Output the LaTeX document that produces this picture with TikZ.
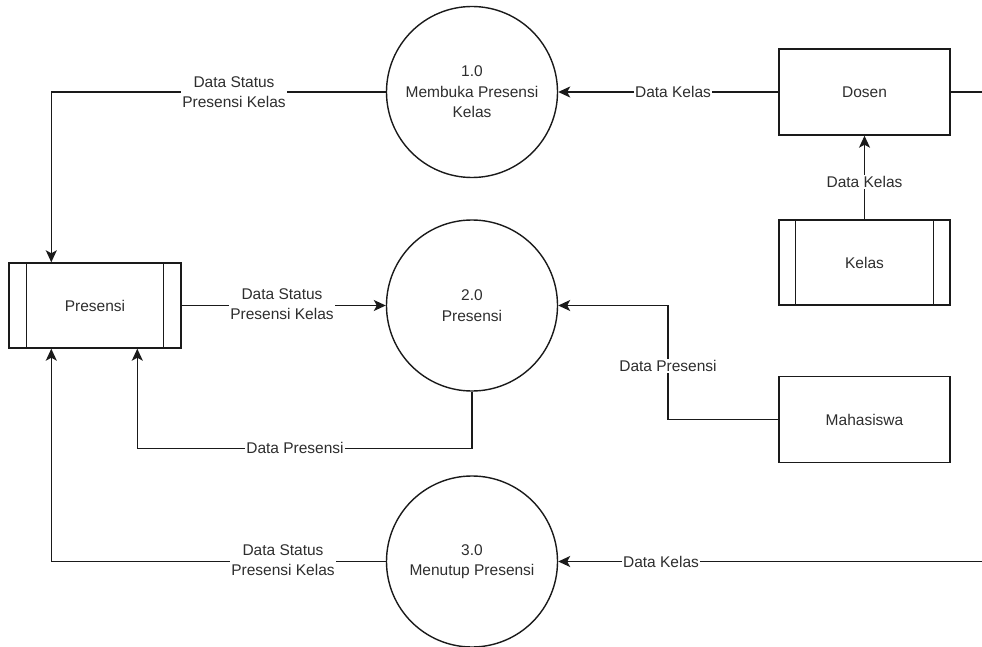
\documentclass[tikz,border=0pt]{standalone}
\usepackage{fontspec}
\setmainfont{Liberation Sans}
\usetikzlibrary{arrows.meta,calc}
\definecolor{ink}{HTML}{1A1A1A}
\definecolor{txt}{HTML}{2E2E2E}
\begin{document}
\begin{tikzpicture}[x=1pt,y=-1pt,
  font=\fontsize{15.5}{20.5}\selectfont,
  every node/.style={text=txt},
  proc/.style={draw=ink,line width=1.4pt,circle,minimum size=171pt,inner sep=0pt,align=center},
  entity/.style={draw=ink,line width=1.4pt,rectangle,minimum width=171pt,minimum height=86pt,inner sep=0pt},
  store/.style={draw=ink,line width=1.4pt,rectangle,minimum width=171pt,minimum height=85pt,inner sep=0pt},
  flow/.style={draw=ink,line width=1.4pt,-{Stealth[length=12pt,width=11pt,inset=3pt]}},
  wire/.style={draw=ink,line width=1.4pt},
  lbl/.style={fill=white,inner sep=1pt,align=center}]
\useasboundingbox (0,0) rectangle (982,647);
\clip (0,0) rectangle (982,647);

% processes
\node[proc] (p1) at (472,92) {1.0\\Membuka Presensi\\Kelas};
\node[proc] (p2) at (472,305.5) {2.0\\Presensi};
\node[proc] (p3) at (472,561.5) {3.0\\Menutup Presensi};

% external entities
\node[entity] (dosen) at (864.5,92) {Dosen};
\node[entity] (mhs) at (864.5,419.5) {Mahasiswa};

% data stores with side bars
\node[store,minimum width=172pt] (pres) at (95,305.5) {Presensi};
\draw[wire] ([xshift=18pt]pres.north west) -- ([xshift=18pt]pres.south west);
\draw[wire] ([xshift=-18pt]pres.north east) -- ([xshift=-18pt]pres.south east);
\node[store] (kelas) at (864.5,262.5) {Kelas};
\draw[wire] ([xshift=17pt]kelas.north west) -- ([xshift=17pt]kelas.south west);
\draw[wire] ([xshift=-17pt]kelas.north east) -- ([xshift=-17pt]kelas.south east);

% routing points
\coordinate (presTL) at ([xshift=43pt]pres.north west);
\coordinate (presBL) at ([xshift=43pt]pres.south west);
\coordinate (presBR) at ([xshift=129pt]pres.south west);
\coordinate (mhsBend) at (668,305.5);
\coordinate (loopTop) at (1000,92);
\coordinate (loopBot) at (1000,561.5);

% flows
\draw[flow] (dosen.west) -- (p1.east);
\node[lbl] at (673,92) {Data Kelas};

\draw[flow] (kelas.north) -- (dosen.south);
\node[lbl] at (864.5,182) {Data Kelas};

\draw[flow] (p1.west) -| (presTL);
\node[lbl] at (234,92) {Data Status\\Presensi Kelas};

\draw[flow] (pres.east) -- (p2.west);
\node[lbl] at (282,304) {Data Status\\Presensi Kelas};

\draw[flow] (p2.south) -- ++(0,57) -| (presBR);
\node[lbl] at (295,448) {Data Presensi};

\draw[flow] (mhs.west) -| (mhsBend) -- (p2.east);
\node[lbl] at (668,366) {Data Presensi};

\draw[flow] (dosen.east) -- (loopTop) -- (loopBot) -- (p3.east);
\node[lbl] at (661,561.5) {Data Kelas};

\draw[flow] (p3.west) -| (presBL);
\node[lbl] at (283,560) {Data Status\\Presensi Kelas};
\end{tikzpicture}
\end{document}
